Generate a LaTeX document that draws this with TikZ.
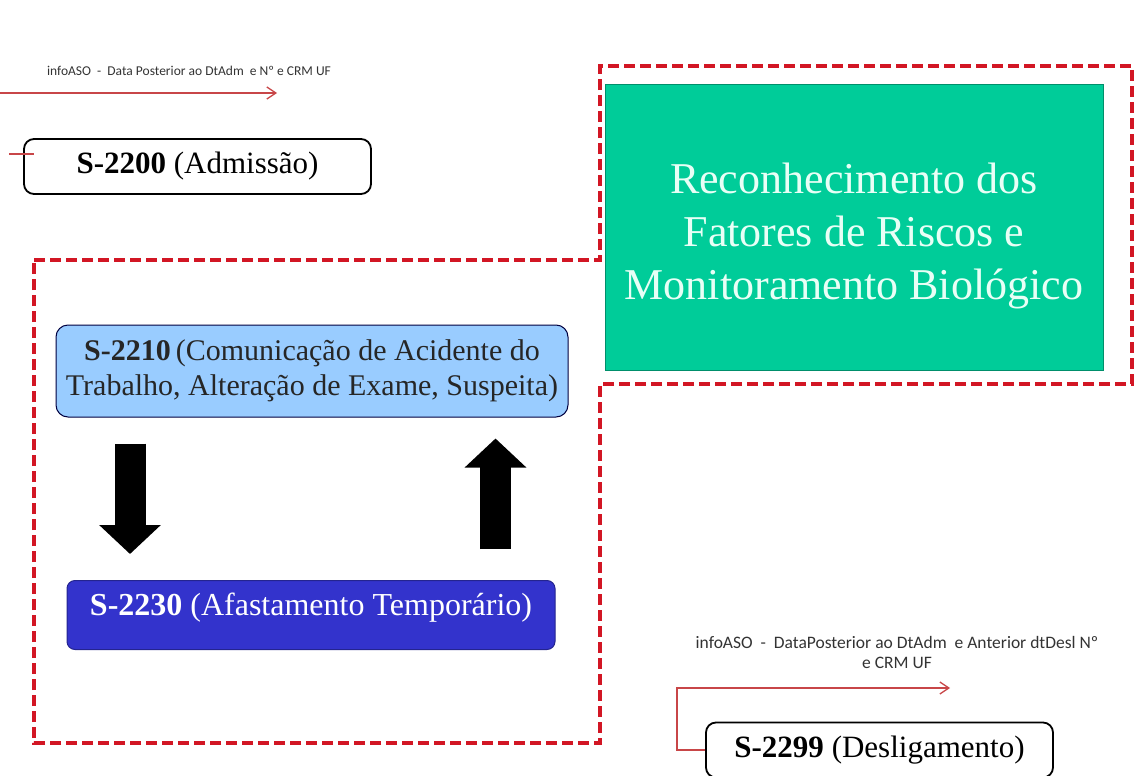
\documentclass[tikz,border=0pt]{standalone}
\usepackage{fontspec}
\setmainfont{Liberation Serif}
\newfontfamily\calibri{Carlito}
\usepackage{tikz}
\usetikzlibrary{arrows.meta}
\definecolor{riskred}{RGB}{210,22,36}
\definecolor{asored}{RGB}{200,70,72}
\definecolor{riskgreen}{RGB}{0,204,153}
\definecolor{mint}{RGB}{232,255,246}
\definecolor{lightblue}{RGB}{153,204,255}
\definecolor{darkblue}{RGB}{51,51,204}
\tikzstyle{event} = [rectangle, rounded corners=10pt, minimum width=347pt, minimum height=55pt, text centered, draw=black, line width=1.8pt, fill=white, font=\fontsize{31}{36}\selectfont]
\tikzstyle{notice} = [rectangle, rounded corners=12pt, minimum width=512pt, minimum height=92pt, align=center, draw=black!75!blue, line width=1pt, fill=lightblue, text=black!85, font=\fontsize{30}{35}\selectfont]
\tikzstyle{leave} = [rectangle, rounded corners=8pt, minimum width=488pt, minimum height=69pt, text centered, text depth=21pt, draw=darkblue!70!black, line width=1pt, fill=darkblue, text=white, font=\fontsize{32}{36}\selectfont]
\tikzstyle{risk} = [rectangle, minimum width=498pt, minimum height=286pt, align=center, draw=riskgreen!70!black, line width=1pt, fill=riskgreen, text=mint, font=\fontsize{44}{53}\selectfont]
\tikzstyle{aso} = [align=center, text=black!80, font=\calibri\fontsize{13.5}{17}\selectfont]
\tikzstyle{asoline} = [asored, line width=1.3pt]
\tikzstyle{asoarrow} = [asoline, -{Straight Barb[length=9pt, width=12pt]}]
\tikzstyle{fatarrow} = [line width=31pt, -{Triangle[width=60pt, length=29pt]}]
\tikzstyle{riskframe} = [riskred, line width=3.5pt, dash pattern=on 11pt off 5pt]

\begin{document}
\begin{tikzpicture}[x=1pt, y=-1pt, node distance=244pt]
    \useasboundingbox (0,0) rectangle (1135,776);
    % frame round the risk box and the two events
    \draw [riskframe] (34,260) -- (600,260) -- (600,66) -- (1132,66) -- (1132,384) -- (600,384) -- (600,743) -- (34,743) -- cycle;
    \node (s2200) [event] at (197.5,166.5) {\textbf{S-2200} (Admissão)};
    \node (aso2200) [aso] at (189,71) {infoASO\ \ -\ \ Data Posterior ao DtAdm\ \ e Nº e CRM UF};
    \node (s2210) [notice] at (312,371) {\textbf{S-2210}\,(Comunicação de Acidente do\\Trabalho, Alteração de Exame, Suspeita)};
    \node (s2230) [leave, below of=s2210, xshift=-1pt] {\textbf{S-2230} (Afastamento Temporário)};
    \node (risk) [risk] at (854,227) {\rule{0pt}{49pt}Reconhecimento dos\\Fatores de Riscos e\\Monitoramento Biológico};
    \node (s2299) [event] at (879.5,750) {\textbf{S-2299} (Desligamento)};
    \node (aso2299) [aso, font=\calibri\fontsize{17.5}{20}\selectfont] at (897,652) {infoASO\ \ -\ \ DataPosterior ao DtAdm\ \ e Anterior dtDesl Nº\\e CRM UF};
    \coordinate (asoin) at (0,93);
    \coordinate (asoout) at (277,93);
    \coordinate (admin) at (9,154);
    \coordinate (deslout) at (950,688);
    \draw [asoarrow] (asoin) -- (asoout);
    \draw [asoline, shorten >=-11pt] (admin) -- (admin -| s2200.west);
    \draw [asoarrow] (s2299.west) -- ++(-28,0) |- (deslout);
    \draw [fatarrow, shorten <=26pt, shorten >=26pt] ([xshift=74.5pt]s2210.south west) -- ([xshift=63.5pt]s2230.north west);
    \draw [fatarrow, shorten <=31pt, shorten >=21pt] ([xshift=429pt]s2230.north west) -- ([xshift=440pt]s2210.south west);
\end{tikzpicture}
\end{document}
